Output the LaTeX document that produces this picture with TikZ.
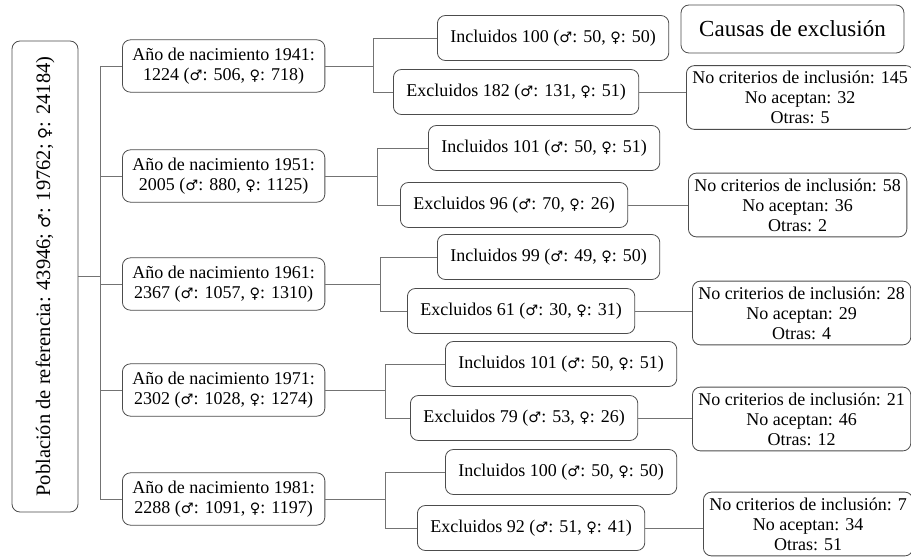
\documentclass[tikz,border=0pt]{standalone}
\usepackage{fontspec}
\setmainfont{Liberation Serif}
\newfontfamily\simbolos{DejaVu Sans}[Scale=0.8]
\usetikzlibrary{positioning}
\newcommand{\masc}{{\simbolos ♂}}
\newcommand{\femi}{{\simbolos ♀}}

\begin{document}
\begin{tikzpicture}[x=1pt,y=-1pt]
    \tikzset{caja/.style={draw=black!70, line width=0.8pt, rounded corners=8pt,
            fill=white, align=center, inner xsep=10pt, inner ysep=8pt,
            font=\fontsize{18}{20}\selectfont},
        causa/.style={caja, inner xsep=6pt, inner ysep=5.5pt},
        lines/.style={draw=black!55, line width=0.8pt},}
    \useasboundingbox (0,0) rectangle (911,559);

    % poblacion de referencia
    \node[caja, rotate=90, minimum width=471pt, minimum height=66pt,
        font=\fontsize{20.5}{22}\selectfont] (pob) at (45,276.5)
        {Población de referencia: 43946; \masc: 19762; \femi: 24184)};

    % cohortes por año de nacimiento
    \node[caja, anchor=west] (a1) at (122,66)  {Año de nacimiento 1941:\\1224 (\masc: 506, \femi: 718)};
    \node[caja, anchor=west] (a2) at (122,176) {Año de nacimiento 1951:\\2005 (\masc: 880, \femi: 1125)};
    \node[caja, anchor=west] (a3) at (122,284) {Año de nacimiento 1961:\\2367 (\masc: 1057, \femi: 1310)};
    \node[caja, anchor=west] (a4) at (122,390) {Año de nacimiento 1971:\\2302 (\masc: 1028, \femi: 1274)};
    \node[caja, anchor=west] (a5) at (122,499) {Año de nacimiento 1981:\\2288 (\masc: 1091, \femi: 1197)};

    % incluidos y excluidos
    \node[caja, anchor=west, inner xsep=13pt, minimum height=45pt] (i1) at (437,38)  {Incluidos 100 (\masc: 50, \femi: 50)};
    \node[caja, anchor=west, inner xsep=13pt, minimum height=45pt] (e1) at (393,92)  {Excluidos 182 (\masc: 131, \femi: 51)};
    \node[caja, anchor=west, inner xsep=13pt, minimum height=45pt] (i2) at (428,148) {Incluidos 101 (\masc: 50, \femi: 51)};
    \node[caja, anchor=west, inner xsep=13pt, minimum height=45pt] (e2) at (400,205) {Excluidos 96 (\masc: 70, \femi: 26)};
    \node[caja, anchor=west, inner xsep=13pt, minimum height=45pt] (i3) at (437,257) {Incluidos 99 (\masc: 49, \femi: 50)};
    \node[caja, anchor=west, inner xsep=13pt, minimum height=45pt] (e3) at (407,311) {Excluidos 61 (\masc: 30, \femi: 31)};
    \node[caja, anchor=west, inner xsep=13pt, minimum height=45pt] (i4) at (445,364) {Incluidos 101 (\masc: 50, \femi: 51)};
    \node[caja, anchor=west, inner xsep=13pt, minimum height=45pt] (e4) at (410,418) {Excluidos 79 (\masc: 53, \femi: 26)};
    \node[caja, anchor=west, inner xsep=13pt, minimum height=45pt] (i5) at (445,472) {Incluidos 100 (\masc: 50, \femi: 50)};
    \node[caja, anchor=west, inner xsep=13pt, minimum height=45pt] (e5) at (417,528) {Excluidos 92 (\masc: 51, \femi: 41)};

    % causas de exclusion
    \node[caja, font=\fontsize{23}{26}\selectfont, minimum width=223pt, minimum height=48pt] (tit) at (792.5,29) {Causas de exclusión};
    \node[causa, anchor=west] (c1) at (686,97.5) {No criterios de inclusión: 145\\No aceptan: 32\\Otras: 5};
    \node[causa, anchor=west] (c2) at (688,205)  {No criterios de inclusión: 58\\No aceptan: 36\\Otras: 2};
    \node[causa, anchor=west] (c3) at (692,313)  {No criterios de inclusión: 28\\No aceptan: 29\\Otras: 4};
    \node[causa, anchor=west] (c4) at (692,419)  {No criterios de inclusión: 21\\No aceptan: 46\\Otras: 12};
    \node[causa, anchor=west] (c5) at (703,524)  {No criterios de inclusión: 7\\No aceptan: 34\\Otras: 51};

    % conectores (el nodo girado tiene su lado derecho en .south)
    \draw[lines] (pob.south) -- ++(22,0) coordinate (tr);
    \draw[lines] (a1.west -| tr) -- (a5.west -| tr);
    \foreach \k in {1,...,5}
        \draw[lines] (a\k.west -| tr) -- (a\k.west);
    \foreach \k/\bx in {1/373,2/377,3/380,4/385,5/385}{
        \coordinate (r\k) at (\bx,0);
        \draw[lines] (a\k.east) -- (a\k.east -| r\k);
        \draw[lines] (i\k.west) -| (r\k |- e\k.west) -- (e\k.west);
        \draw[lines] (e\k.east) -- (e\k.east -| c\k.west);
    }
\end{tikzpicture}
\end{document}
